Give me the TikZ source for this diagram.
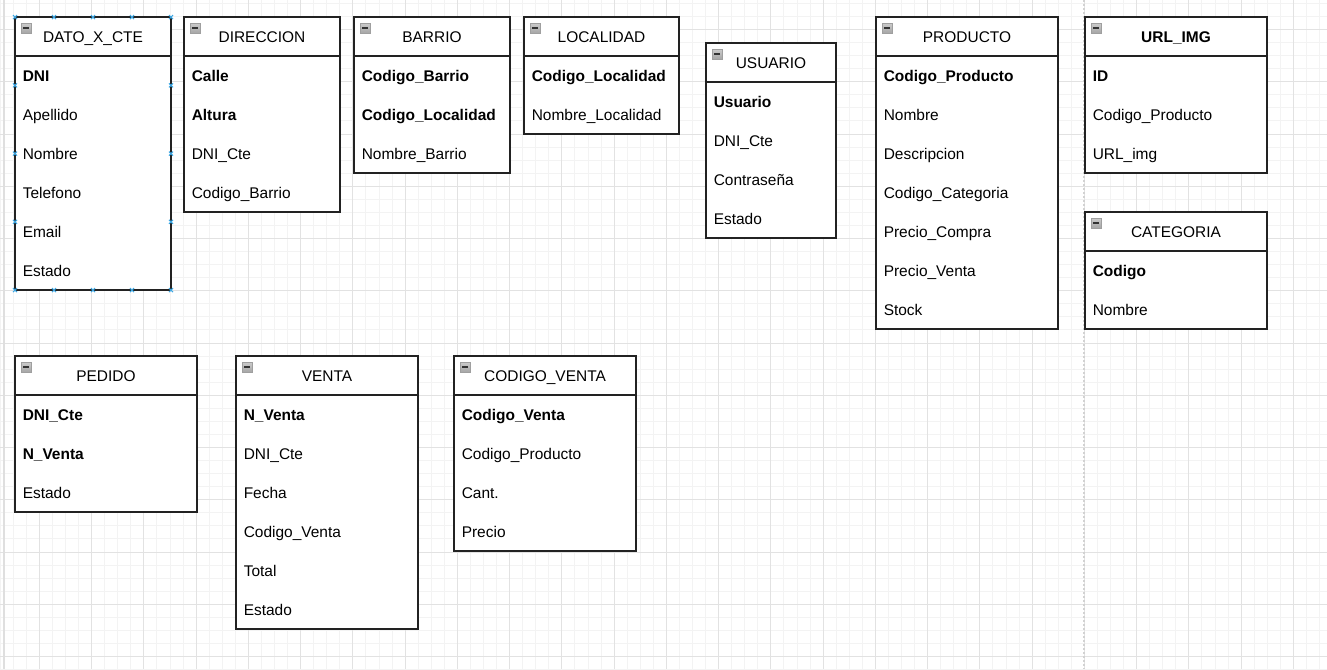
\documentclass[tikz,border=0pt]{standalone}
\usepackage{fontspec}
\setmainfont{Liberation Sans}
\definecolor{gridminor}{HTML}{F3F3F3}
\definecolor{gridmajor}{HTML}{E2E2E2}
\definecolor{handleblue}{HTML}{3BA6E3}
\definecolor{boxdark}{HTML}{222222}
\tikzset{
  tabbox/.style={draw=boxdark, line width=1pt, fill=white, anchor=north west, inner sep=0pt, outer sep=0pt},
  tabline/.style={draw=boxdark, line width=1pt},
  fieldtxt/.style={anchor=base west, inner sep=0pt, font=\fontsize{11.6}{14}\selectfont, text=black},
  titletxt/.style={anchor=base, inner sep=0pt, font=\fontsize{11.6}{14}\selectfont, text=black},
  iconbox/.style={top color=gray!40, bottom color=gray!70, draw=gray!75, line width=0.6pt},
  iconbar/.style={draw=black!80, line width=1.4pt},
  handlemark/.style={draw=handleblue, line width=0.8pt},
  pagebreak/.style={draw=gray!35, line width=0.8pt, dash pattern=on 1.5pt off 1.5pt},
}
% name, x, y, w, h, title, rows
\newcommand{\erdtab}[7]{%
  \node[tabbox, minimum width={#4*0.75pt}, minimum height={#5*0.75pt}] (#1) at (#2,#3) {};
  \draw[tabline] (#2,#3+39) -- (#2+#4,#3+39);
  \shade[iconbox] (#2+6,#3+6) rectangle (#2+16,#3+16);
  \draw[iconbar] (#2+8,#3+11) -- (#2+14,#3+11);
  \node[titletxt] (#1-t) at (#2+#4/2, #3+25.5) {#6};
  \foreach \r [count=\i] in {#7} {
    \node[fieldtxt] (#1-\i) at (#2+7.5, #3+25+39*\i) {\r};
  }%
}
\begin{document}
\begin{tikzpicture}[x=0.75pt, y=-0.75pt]
\useasboundingbox (0,0) rectangle (1327,669);
\fill[white] (0,0) rectangle (1327,669);
% grid
\foreach \i in {0,...,101} {
  \draw[gridminor, line width=0.6pt] (0.1+13.0625*\i,0) -- (0.1+13.0625*\i,669);
}
\foreach \i in {0,...,51} {
  \draw[gridminor, line width=0.6pt] (0,3.3+13.0625*\i) -- (1327,3.3+13.0625*\i);
}
\foreach \i in {0,...,25} {
  \draw[gridmajor, line width=0.6pt] (39.3+52.25*\i,0) -- (39.3+52.25*\i,669);
}
\foreach \i in {-1,0,...,12} {
  \draw[gridmajor, line width=0.6pt] (0,29.4+52.25*\i) -- (1327,29.4+52.25*\i);
}
\draw[gray!25, line width=0.8pt] (4,0) -- (4,669);
\draw[pagebreak] (1084,0) -- (1084,669);

% tables
\erdtab{dato}{15}{17}{156}{273}{DATO\_X\_CTE}{\textbf{DNI},Apellido,Nombre,Telefono,Email,Estado}
\erdtab{dir}{184}{17}{156}{195}{DIRECCION}{\textbf{Calle},\textbf{Altura},DNI\_Cte,Codigo\_Barrio}
\erdtab{barrio}{354}{17}{156}{156}{BARRIO}{\textbf{Codigo\_Barrio},\textbf{Codigo\_Localidad},Nombre\_Barrio}
\erdtab{loc}{524}{17}{155}{117}{LOCALIDAD}{\textbf{Codigo\_Localidad},Nombre\_Localidad}
\erdtab{usr}{706}{43}{130}{195}{USUARIO}{\textbf{Usuario},DNI\_Cte,Contraseña,Estado}
\erdtab{prod}{876}{17}{182}{312}{PRODUCTO}{\textbf{Codigo\_Producto},Nombre,Descripcion,Codigo\_Categoria,Precio\_Compra,Precio\_Venta,Stock}
\erdtab{url}{1085}{17}{182}{156}{\textbf{URL\_IMG}}{\textbf{ID},Codigo\_Producto,URL\_img}
\erdtab{cat}{1085}{212}{182}{117}{CATEGORIA}{\textbf{Codigo},Nombre}
\erdtab{ped}{15}{356}{182}{156}{PEDIDO}{\textbf{DNI\_Cte},\textbf{N\_Venta},Estado}
\erdtab{venta}{236}{356}{182}{273}{VENTA}{\textbf{N\_Venta},DNI\_Cte,Fecha,Codigo\_Venta,Total,Estado}
\erdtab{cv}{454}{356}{182}{195}{CODIGO\_VENTA}{\textbf{Codigo\_Venta},Codigo\_Producto,Cant.,Precio}

% selection / connection handles on DATO_X_CTE
\foreach \fx in {0,0.25,0.5,0.75,1} {
  \draw[handlemark] (15+156*\fx-2,15) -- (15+156*\fx+2,19) (15+156*\fx-2,19) -- (15+156*\fx+2,15);
  \draw[handlemark] (15+156*\fx-2,288) -- (15+156*\fx+2,292) (15+156*\fx-2,292) -- (15+156*\fx+2,288);
}
\foreach \fy in {0.25,0.5,0.75} {
  \draw[handlemark] (13,17+273*\fy-2) -- (17,17+273*\fy+2) (13,17+273*\fy+2) -- (17,17+273*\fy-2);
  \draw[handlemark] (169,17+273*\fy-2) -- (173,17+273*\fy+2) (169,17+273*\fy+2) -- (173,17+273*\fy-2);
}
\end{tikzpicture}
\end{document}
